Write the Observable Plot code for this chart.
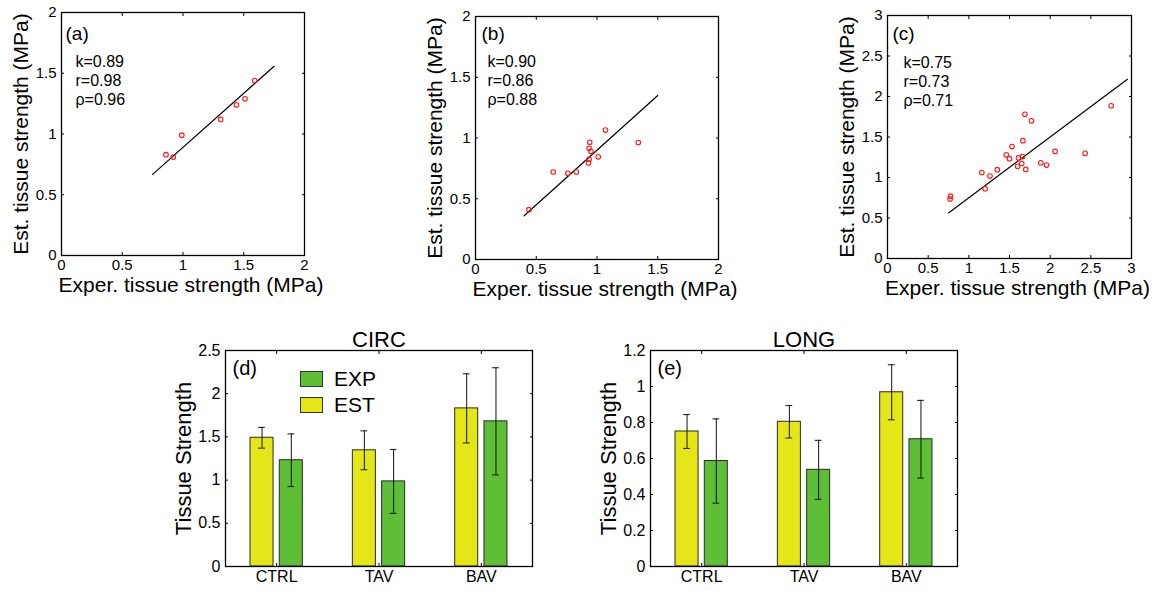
<!DOCTYPE html>
<html><head><meta charset="utf-8">
<script src="https://cdn.jsdelivr.net/npm/d3@7"></script>
<script src="https://cdn.jsdelivr.net/npm/@observablehq/plot@0.6"></script>
<style>
body{margin:0;background:#fff;}
#root{position:relative;width:1168px;height:591px;font-family:"Liberation Sans",Arial,sans-serif;overflow:hidden;}
.panel{position:absolute;}
.panel svg{overflow:visible;}
.lg{position:absolute;display:flex;align-items:center;font-size:21px;color:#000;}
.sw{width:21px;height:14px;border:1.3px solid #333;margin-right:11px;}
</style></head><body><div id="root"></div>
<script>
// ---------- data ----------
// panel (a)
const aExp = [0.86, 0.92, 0.99, 1.31, 1.44, 1.51, 1.59];
const aEst = [0.83, 0.81, 0.99, 1.12, 1.24, 1.29, 1.44];
const aK = 0.89;
const aFitRange = [0.75, 1.75];
const aStats = ["k=0.89", "r=0.98", "ρ=0.96"];
// panel (b)
const bExp = [0.44, 0.64, 0.76, 0.83, 0.94, 0.935, 0.95, 0.935, 0.93, 1.01, 1.07, 1.34];
const bEst = [0.41, 0.72, 0.71, 0.72, 0.965, 0.915, 0.89, 0.825, 0.795, 0.845, 1.065, 0.963];
const bK = 0.90;
const bFitRange = [0.4, 1.5];
const bStats = ["k=0.90", "r=0.86", "ρ=0.88"];
// panel (c)
const cExp = [0.775, 0.77, 1.16, 1.20, 1.26, 1.35, 1.46, 1.50, 1.53, 1.665, 1.61, 1.66, 1.65, 1.60, 1.70, 1.69, 1.77, 1.885, 1.955, 2.06, 2.43, 2.75];
const cEst = [0.77, 0.735, 1.062, 0.862, 1.018, 1.097, 1.28, 1.233, 1.383, 1.455, 1.242, 1.258, 1.173, 1.138, 1.10, 1.78, 1.70, 1.182, 1.154, 1.322, 1.298, 1.886];
const cK = 0.75;
const cFitRange = [0.75, 2.95];
const cStats = ["k=0.75", "r=0.73", "ρ=0.71"];
// scatter axes
const ticks2 = [0, 0.5, 1, 1.5, 2];
const ticks3 = [0, 0.5, 1, 1.5, 2, 2.5, 3];
const xLabel = "Exper. tissue strength (MPa)";
const yLabel = "Est. tissue strength (MPa)";

// bar panels
const groups = ["CTRL", "TAV", "BAV"];
const series = ["EXP", "EST"];
const circEst = [1.49, 1.345, 1.83];
const circEstErr = [0.12, 0.225, 0.40];
const circExp = [1.23, 0.985, 1.68];
const circExpErr = [0.305, 0.37, 0.62];
const longEst = [0.75, 0.804, 0.968];
const longEstErr = [0.094, 0.09, 0.153];
const longExp = [0.586, 0.537, 0.707];
const longExpErr = [0.234, 0.164, 0.216];
const circTicks = [0, 0.5, 1, 1.5, 2, 2.5];
const longTicks = [0, 0.2, 0.4, 0.6, 0.8, 1, 1.2];
const barYLabel = "Tissue Strength";
const colEst = "#e5e617";
const colExp = "#5ebf37";

// ---------- drawing ----------
const root = document.getElementById("root");
const FONT = '"Liberation Sans", Arial, sans-serif';
const fmt = d => String(d);

function boxAxes(xt, yt, xfmt, yfmt, xFont, yFont) {
  return [
    Plot.axisX(xt, {anchor: "bottom", tickSize: 3, dy: -3, tickFormat: () => "", label: null}),
    Plot.axisX(xt, {anchor: "top", tickSize: 3, dy: 3, tickFormat: () => "", label: null}),
    Plot.axisY(yt, {anchor: "left", tickSize: 3, dx: 3, tickFormat: () => "", label: null}),
    Plot.axisY(yt, {anchor: "right", tickSize: 3, dx: -3, tickFormat: () => "", label: null}),
    Plot.axisX(xt, {anchor: "bottom", tickSize: 0, tickPadding: 4, tickFormat: xfmt, label: null, fontSize: xFont}),
    Plot.axisY(yt, {anchor: "left", tickSize: 0, tickPadding: 5, tickFormat: yfmt, label: null, fontSize: yFont})
  ];
}

function place(el, left, top) {
  const d = document.createElement("div");
  d.className = "panel";
  d.style.left = left + "px";
  d.style.top = top + "px";
  d.appendChild(el);
  root.appendChild(d);
  return d;
}

function scatter(o) {
  const pts = o.exp.map((x, i) => ({x, y: o.est[i]}));
  const fit = o.fit.map(x => ({x, y: o.k * x}));
  const marks = [
    ...boxAxes(o.ticks, o.ticks, fmt, fmt, 15, 15),
    Plot.line(fit, {x: "x", y: "y", stroke: "#000", strokeWidth: 1.2}),
    Plot.dot(pts, {x: "x", y: "y", r: 2.3, stroke: "#ff1a1a", strokeWidth: 1.1}),
    Plot.frame({stroke: "#000", strokeWidth: 1.3}),
    Plot.text([o.tag], {text: d => d, frameAnchor: "top-left", textAnchor: "start", lineAnchor: "middle", dx: o.tagDx, dy: o.tagDy, fontSize: 19}),
    ...o.stats.map((s, i) => Plot.text([s], {text: d => d, frameAnchor: "top-left", textAnchor: "start", lineAnchor: "middle", dx: o.statDx, dy: o.statDy + i * 19, fontSize: 16})),
    Plot.text([xLabel], {text: d => d, frameAnchor: "bottom", textAnchor: "middle", lineAnchor: "middle", dy: 30, dx: 8, fontSize: 21}),
    Plot.text([yLabel], {text: d => d, frameAnchor: "left", textAnchor: "middle", rotate: -90, lineAnchor: "middle", dx: -40, fontSize: 21})
  ];
  const p = Plot.plot({
    width: o.w, height: 300,
    marginLeft: o.ml, marginRight: o.w - o.ml - o.size, marginTop: o.mt, marginBottom: 300 - o.mt - 243,
    x: {domain: [0, o.max]},
    y: {domain: [0, o.max]},
    style: {fontFamily: FONT, fontSize: "14px", color: "#000", background: "transparent", overflow: "visible"},
    marks
  });
  place(p, o.left, 0);
}

scatter({exp: aExp, est: aEst, k: aK, fit: aFitRange, stats: aStats, tag: "(a)", ticks: ticks2, max: 2,
  left: 0, w: 340, ml: 61, mt: 12, size: 243, tagDx: 4, tagDy: 21, statDx: 14, statDy: 49});
scatter({exp: bExp, est: bEst, k: bK, fit: bFitRange, stats: bStats, tag: "(b)", ticks: ticks2, max: 2,
  left: 390, w: 360, ml: 85, mt: 16, size: 243, tagDx: 6, tagDy: 17, statDx: 12, statDy: 45});
scatter({exp: cExp, est: cEst, k: cK, fit: cFitRange, stats: cStats, tag: "(c)", ticks: ticks3, max: 3,
  left: 770, w: 398, ml: 117, mt: 15, size: 244, tagDx: 5, tagDy: 18, statDx: 16, statDy: 47});

function bars(o) {
  const off = 0.143, bw = 0.225, cap = 0.033;
  const rows = [];
  groups.forEach((g, i) => {
    rows.push({g, i: i + 1, s: "EST", v: o.est[i], e: o.estErr[i], c: i + 1 - off});
    rows.push({g, i: i + 1, s: "EXP", v: o.exp[i], e: o.expErr[i], c: i + 1 + off});
  });
  const p = Plot.plot({
    width: 400, height: 281,
    marginLeft: 75, marginRight: 18, marginTop: 40, marginBottom: 25,
    x: {domain: [0.5, 3.5]},
    y: {domain: [0, o.max]},
    color: {domain: ["EST", "EXP"], range: [colEst, colExp]},
    style: {fontFamily: FONT, fontSize: "14px", color: "#000", background: "transparent", overflow: "visible"},
    marks: [
      ...boxAxes([1, 2, 3], o.ticks, i => groups[i - 1], fmt, 16, 16),
      Plot.rect(rows, {x1: d => d.c - bw / 2, x2: d => d.c + bw / 2, y1: 0, y2: "v", fill: "s", stroke: "#2a2a2a", strokeWidth: 1}),
      Plot.ruleX(rows, {x: "c", y1: d => d.v - d.e, y2: d => d.v + d.e, stroke: "#111", strokeWidth: 1}),
      Plot.ruleY(rows, {y: d => d.v + d.e, x1: d => d.c - cap, x2: d => d.c + cap, stroke: "#111", strokeWidth: 1}),
      Plot.ruleY(rows, {y: d => d.v - d.e, x1: d => d.c - cap, x2: d => d.c + cap, stroke: "#111", strokeWidth: 1}),
      Plot.frame({stroke: "#000", strokeWidth: 1.3}),
      Plot.text([o.tag], {text: d => d, frameAnchor: "top-left", textAnchor: "start", lineAnchor: "middle", dx: 7, dy: 18, fontSize: 20}),
      Plot.text([o.title], {text: d => d, frameAnchor: "top", textAnchor: "middle", lineAnchor: "middle", dy: -11, fontSize: 22}),
      Plot.text([barYLabel], {text: d => d, frameAnchor: "left", textAnchor: "middle", rotate: -90, lineAnchor: "middle", dx: -42, fontSize: 22})
    ]
  });
  const d = place(p, o.left, 310);
  if (o.legend) {
    const cols = {EXP: colExp, EST: colEst};
    series.forEach((s, i) => {
      const item = document.createElement("div");
      item.className = "lg";
      item.style.left = "150px";
      item.style.top = (56.5 + i * 26.5) + "px";
      item.style.height = "24px";
      const sw = document.createElement("div");
      sw.className = "sw";
      sw.style.background = cols[s];
      item.appendChild(sw);
      const t = document.createElement("span");
      t.textContent = s;
      item.appendChild(t);
      d.appendChild(item);
    });
  }
}

bars({title: "CIRC", tag: "(d)", est: circEst, estErr: circEstErr, exp: circExp, expErr: circExpErr, max: 2.5, ticks: circTicks, left: 150, legend: true});
bars({title: "LONG", tag: "(e)", est: longEst, estErr: longEstErr, exp: longExp, expErr: longExpErr, max: 1.2, ticks: longTicks, left: 575, legend: false});
</script></body></html>
